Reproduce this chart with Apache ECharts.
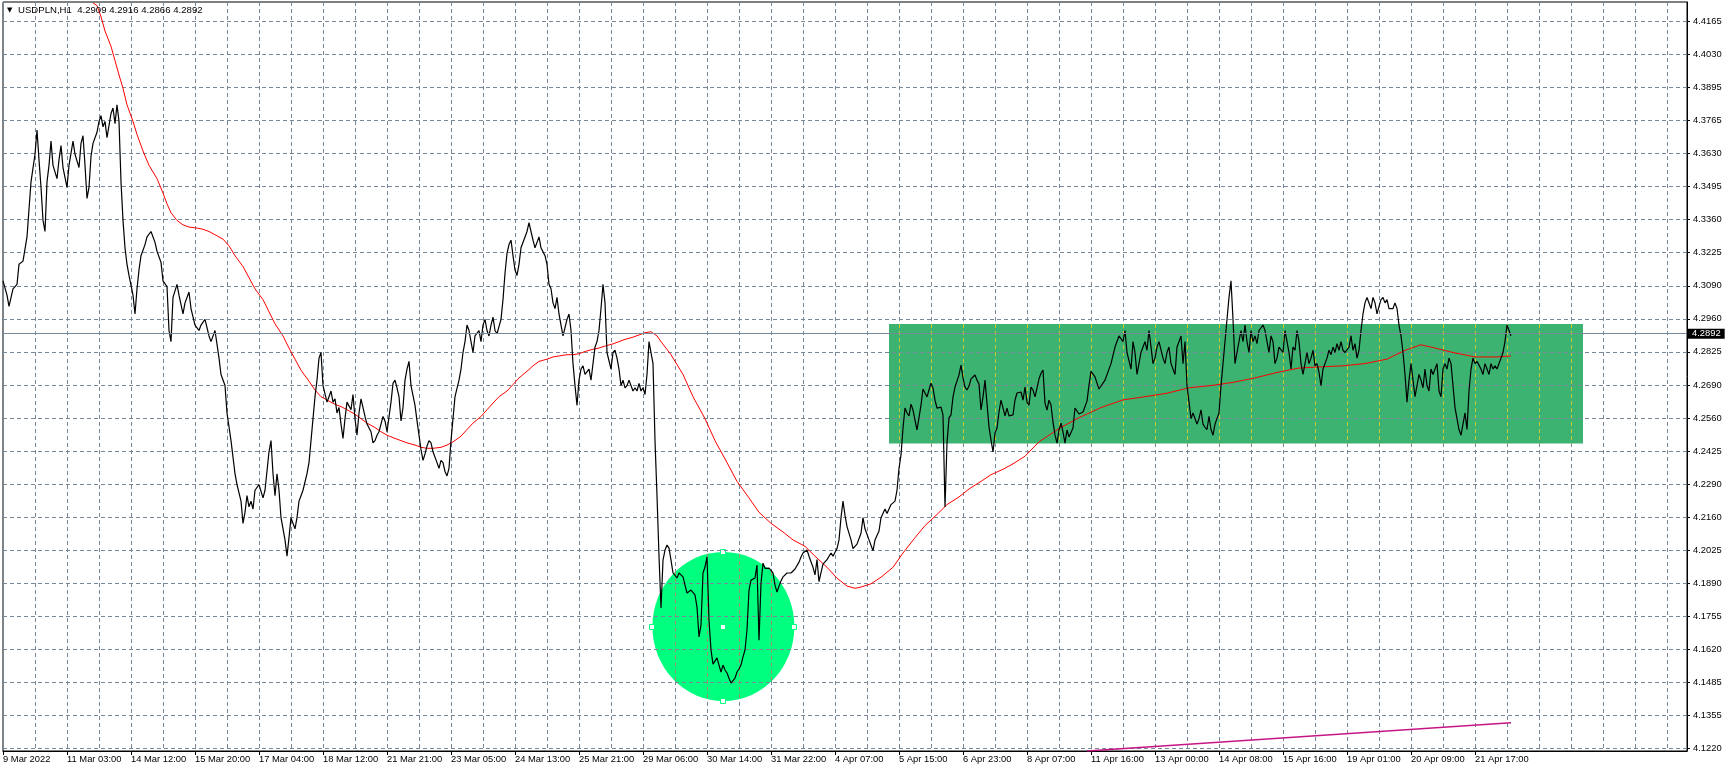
<!DOCTYPE html>
<html><head><meta charset="utf-8">
<script src="https://cdn.jsdelivr.net/npm/echarts@6/dist/echarts.min.js"></script>
<style>html,body{margin:0;padding:0;background:#fff}#chart{width:1727px;height:772px}</style>
</head><body><div id="chart"></div>
<script>
// ---------- data ----------
const symbolName = 'USDPLN';
const timeframe = 'H1';
const ohlc = ['4.2909', '4.2916', '4.2866', '4.2892'];
const lastPrice = 4.2892;

const xLabels = ['9 Mar 2022','11 Mar 03:00','14 Mar 12:00','15 Mar 20:00','17 Mar 04:00','18 Mar 12:00','21 Mar 21:00','23 Mar 05:00','24 Mar 13:00','25 Mar 21:00','29 Mar 06:00','30 Mar 14:00','31 Mar 22:00','4 Apr 07:00','5 Apr 15:00','6 Apr 23:00','8 Apr 07:00','11 Apr 16:00','13 Apr 00:00','14 Apr 08:00','15 Apr 16:00','19 Apr 01:00','20 Apr 09:00','21 Apr 17:00'];
const barsPerLabel = 32;
const barsPerGrid = 16;
const barSlots = 842;

const yLabels = ['4.1220','4.1355','4.1485','4.1620','4.1755','4.1890','4.2025','4.2160','4.2290','4.2425','4.2560','4.2690','4.2825','4.2960','4.3090','4.3225','4.3360','4.3495','4.3630','4.3765','4.3895','4.4030','4.4165'];
const yAxisMin = 4.1210;
const yAxisMax = 4.42435;

// hourly close line: [bar index, price]
const price = [
[0,4.3114],[2,4.3056],[3,4.3011],[5,4.3082],[7,4.3100],[8,4.3181],[10,4.3194],[12,4.3292],[13,4.3404],[14,4.3515],[16,4.3627],[17,4.3725],[18,4.3604],[19,4.3493],[20,4.3359],[21,4.3314],[22,4.3515],[23,4.3582],[24,4.3680],[25,4.3582],[27,4.3528],[28,4.3604],[29,4.3662],[30,4.3573],[32,4.3493],[33,4.3582],[35,4.3680],[36,4.3627],[38,4.3573],[39,4.3671],[40,4.3702],[41,4.3582],[42,4.3448],[43,4.3493],[44,4.3618],[45,4.3671],[47,4.3716],[48,4.3760],[49,4.3783],[50,4.3738],[51,4.3760],[52,4.3694],[54,4.3792],[55,4.3814],[56,4.3751],[57,4.3827],[58,4.3760],[59,4.3515],
[60,4.3359],[61,4.3248],[62,4.3181],[63,4.3136],[65,4.3056],[66,4.2980],[67,4.3082],[68,4.3158],[69,4.3216],[71,4.3261],[72,4.3292],[74,4.3314],[76,4.3270],[77,4.3234],[79,4.3189],[80,4.3114],[82,4.3091],[83,4.2913],[84,4.2868],[85,4.3047],[87,4.3100],[88,4.3056],[90,4.2980],[91,4.3025],[93,4.3069],[94,4.3002],[96,4.2935],[98,4.2913],[99,4.2935],[101,4.2958],[103,4.2891],[104,4.2868],[106,4.2913],[108,4.2801],[109,4.2735],[111,4.2690],[112,4.2579],[114,4.2467],
[115,4.2400],[116,4.2333],[117,4.2289],[119,4.2222],[120,4.2132],[121,4.2177],[122,4.2244],[123,4.2199],[124,4.2222],[125,4.2190],[126,4.2266],[128,4.2289],[130,4.2235],[131,4.2266],[133,4.2422],[134,4.2467],[135,4.2333],[136,4.2244],[137,4.2333],[138,4.2266],[139,4.2155],[141,4.2065],[142,4.1999],[143,4.2074],[144,4.2155],[145,4.2132],[146,4.2110],[147,4.2155],[148,4.2222],[149,4.2244],[150,4.2266],[152,4.2333],[153,4.2378],[154,4.2467],[155,4.2556],[156,4.2645],[157,4.2712],[158,4.2801],[159,4.2824],[160,4.2690],[162,4.2623],[163,4.2645],[164,4.2668],
[165,4.2623],[166,4.2636],[167,4.2579],[168,4.2601],[169,4.2534],[170,4.2476],[171,4.2556],[172,4.2623],[174,4.2592],[175,4.2654],[176,4.2556],[177,4.2489],[178,4.2579],[179,4.2636],[180,4.2601],[181,4.2565],[182,4.2534],[184,4.2503],[185,4.2458],[186,4.2467],[187,4.2489],[188,4.2503],[189,4.2534],[190,4.2565],[191,4.2547],[192,4.2503],[194,4.2623],[195,4.2699],[196,4.2712],[197,4.2681],[198,4.2645],[199,4.2547],[200,4.2601],[201,4.2712],[202,4.2757],[203,4.2788],[204,4.2690],[206,4.2610],[207,4.2547],[208,4.2489],[209,4.2431],[210,4.2387],[211,4.2413],[212,4.2445],[213,4.2467],[214,4.2458],[215,4.2422],[217,4.2378],[218,4.2355],[219,4.2387],[220,4.2378],[221,4.2342],[222,4.2324],[223,4.2355],[224,4.2467],
[225,4.2556],[226,4.2645],[228,4.2712],[229,4.2757],[230,4.2824],[231,4.2868],[232,4.2935],[233,4.2913],[234,4.2868],[235,4.2824],[236,4.2891],[238,4.2913],[239,4.2868],[240,4.2935],[241,4.2958],[242,4.2913],[243,4.2891],[244,4.2935],[245,4.2967],[246,4.2913],[247,4.2900],[249,4.2958],[250,4.3038],[251,4.3145],[252,4.3225],[253,4.3261],[254,4.3279],[255,4.3216],[256,4.3158],[257,4.3136],[258,4.3181],[259,4.3248],[261,4.3292],[262,4.3314],[263,4.3350],[264,4.3314],[265,4.3279],[266,4.3248],[267,4.3270],[268,4.3292],[269,4.3248],[271,4.3216],[272,4.3181],[273,4.3100],[274,4.3082],[275,4.3025],[276,4.3002],[277,4.3047],[278,4.2980],[279,4.2935],[280,4.2891],[282,4.2958],[283,4.2980],[284,4.2913],[285,4.2779],
[286,4.2690],[287,4.2610],[288,4.2712],[289,4.2757],[290,4.2770],[291,4.2735],[293,4.2757],[294,4.2712],[295,4.2779],[296,4.2846],[297,4.2868],[298,4.2913],[299,4.3002],[300,4.3100],[301,4.3025],[302,4.2824],[304,4.2757],[305,4.2824],[306,4.2833],[307,4.2801],[308,4.2757],[309,4.2690],[310,4.2712],[311,4.2681],[312,4.2690],[313,4.2712],[315,4.2668],[316,4.2681],[317,4.2668],[318,4.2699],[319,4.2668],[320,4.2681],[321,4.2654],[322,4.2735],[323,4.2868],[325,4.2779],[326,4.2467],[327,4.2244],
[328,4.2000],[329,4.1789],[330,4.1983],[331,4.2024],[332,4.2044],[333,4.2032],[334,4.1983],[335,4.1931],[336,4.1923],[337,4.1911],[338,4.1931],[339,4.1923],[340,4.1915],[341,4.1882],[342,4.1850],[343,4.1846],[344,4.1862],[345,4.1870],[346,4.1842],[347,4.1793],[348,4.1672],[349,4.1720],[350,4.1931],[351,4.1955],[352,4.1996],[353,4.1740],[354,4.1619],[355,4.1562],[356,4.1566],[357,4.1587],[358,4.1558],[359,4.1530],[360,4.1558],[361,4.1538],[362,4.1526],[363,4.1505],[364,4.1485],[365,4.1489],[366,4.1505],[367,4.1530],[368,4.1542],[369,4.1558],[370,4.1591],[371,4.1619],[372,4.1700],[373,4.1862],[374,4.1902],[375,4.1894],[376,4.1911],[377,4.1963],[378,4.1659],[379,4.1890],[380,4.1971],[381,4.1950],[382,4.1955],[383,4.1951],[384,4.1943],[385,4.1931],[386,4.1882],[387,4.1854],[388,4.1878],[389,4.1899],[390,4.1915],[391,4.1923],[392,4.1931],[393,4.1931],[394,4.1931],[395,4.1935],[396,4.1947],[397,4.1955],[398,4.1975],[399,4.1996],[400,4.2012],[401,4.2020],[402,4.2024],
[403,4.1999],[405,4.1954],[406,4.1923],[407,4.1985],[408,4.1896],[409,4.1932],[410,4.1967],[412,4.1985],[414,4.2012],[415,4.1999],[417,4.2030],[418,4.2065],[419,4.2155],[420,4.2222],[421,4.2164],[422,4.2119],[424,4.2065],[425,4.2030],[427,4.2048],[429,4.2092],[430,4.2155],[431,4.2110],[433,4.2065],[435,4.2021],[436,4.2065],[438,4.2101],[439,4.2155],[441,4.2190],[442,4.2172],[444,4.2208],[446,4.2222],[447,4.2266],[448,4.2355],
[449,4.2409],[450,4.2518],[451,4.2599],[452,4.2579],[453,4.2567],[454,4.2615],[455,4.2591],[456,4.2550],[457,4.2510],[458,4.2510],[459,4.2611],[460,4.2676],[461,4.2660],[462,4.2644],[463,4.2672],[464,4.2700],[465,4.2680],[466,4.2631],[467,4.2599],[468,4.2591],[469,4.2603],[470,4.2571],[471,4.2198],[472,4.2457],[473,4.2559],[474,4.2571],[475,4.2644],[476,4.2684],[477,4.2684],[478,4.2733],[479,4.2773],[480,4.2721],[481,4.2684],[482,4.2672],[483,4.2688],[484,4.2717],[485,4.2725],[486,4.2733],[487,4.2712],[488,4.2696],[489,4.2591],[490,4.2644],[491,4.2712],[492,4.2704],[493,4.2522],[494,4.2470],[495,4.2421],[496,4.2498],[497,4.2518],[498,4.2583],[499,4.2631],[500,4.2631],[501,4.2567],[502,4.2599],[503,4.2567],[504,4.2559],[505,4.2571],[506,4.2631],[507,4.2660],[508,4.2664],[509,4.2664],[510,4.2631],[511,4.2684],[512,4.2623],[513,4.2611],[514,4.2684],[515,4.2672],[516,4.2644],[517,4.2680],[518,4.2717],[519,4.2740],[520,4.2753],[521,4.2619],[522,4.2591],[523,4.2631],[524,4.2611],[525,4.2542],[526,4.2490],[527,4.2457],[528,4.2510],[529,4.2538],[530,4.2502],[531,4.2457],[532,4.2510],[533,4.2482],[534,4.2482],[535,4.2518],[536,4.2599],[537,4.2587],[538,4.2575],[539,4.2583],[540,4.2583],[541,4.2591],[542,4.2627],[543,4.2692],[544,4.2748],[545,4.2740],[546,4.2725],[547,4.2700],[548,4.2676],
[549,4.2668],[551,4.2712],[554,4.2779],[556,4.2846],[558,4.2891],[560,4.2868],[561,4.2913],[562,4.2824],[564,4.2757],[565,4.2868],[566,4.2824],[567,4.2735],[569,4.2824],[571,4.2868],[572,4.2833],[573,4.2913],[575,4.2779],[576,4.2801],[577,4.2846],[578,4.2868],[580,4.2801],[581,4.2779],[582,4.2824],[583,4.2846],[584,4.2779],[586,4.2735],[587,4.2846],[588,4.2868],[589,4.2891],[590,4.2779],[591,4.2868],[592,4.2690],[593,4.2623],[594,4.2556],[595,4.2579],[597,4.2534],[598,4.2556],[599,4.2592],[600,4.2534],[601,4.2521],[602,4.2512],[603,4.2565],[604,4.2512],[605,4.2489],[606,4.2534],[608,4.2579],[609,4.2690],[610,4.2779],[611,4.2868],[612,4.2958],[613,4.3047],[614,4.3114],[615,4.2958],[616,4.2779],[617,4.2824],[619,4.2913],[620,4.2868],[621,4.2935],[622,4.2868],[623,4.2824],[624,4.2913],[625,4.2868],[626,4.2891],[627,4.2860],[628,4.2913],[630,4.2935],[631,4.2913],[632,4.2868],[633,4.2824],[634,4.2891],[635,4.2868],[636,4.2779],[637,4.2801],[638,4.2846],[640,4.2824],[641,4.2913],[642,4.2868],[643,4.2824],[644,4.2757],[645,4.2846],[646,4.2833],[647,4.2913],[648,4.2868],[649,4.2779],[650,4.2735],[652,4.2824],[653,4.2779],[654,4.2801],[655,4.2833],[656,4.2770],[657,4.2779],[658,4.2743],[659,4.2690],[660,4.2757],[662,4.2801],[663,4.2833],[664,4.2815],[665,4.2846],[666,4.2824],[667,4.2860],[668,4.2833],[669,4.2868],[670,4.2833],[671,4.2824],[673,4.2846],[674,4.2891],[675,4.2833],[676,4.2860],[677,4.2801],[678,4.2833],[679,4.2913],[680,4.2980],[681,4.3025],[682,4.3047],[684,4.3002],[685,4.3047],[686,4.3025],[687,4.2980],[688,4.3011],[689,4.3038],[690,4.3047],[691,4.3025],[692,4.3038],[693,4.3002],[695,4.3002],[696,4.3025],[697,4.3002],[698,4.2935],[699,4.2891],[700,4.2824],[701,4.2735],[702,4.2623],[703,4.2712],[704,4.2779],[706,4.2645],[707,4.2690],[708,4.2735],[709,4.2712],[710,4.2681],[711,4.2757],[712,4.2690],[713,4.2668],[714,4.2757],[715,4.2735],[717,4.2779],[718,4.2668],[719,4.2645],[720,4.2757],[721,4.2779],[722,4.2757],[723,4.2801],[724,4.2779],[725,4.2690],[726,4.2601],[728,4.2512],[729,4.2489],[730,4.2534],[731,4.2579],[732,4.2512],[733,4.2668],[734,4.2757],[735,4.2801],[736,4.2779],[737,4.2788],[739,4.2757],[740,4.2735],[741,4.2779],[742,4.2757],[743,4.2735],[744,4.2779],[745,4.2757],[746,4.2770],[747,4.2757],[749,4.2801],[750,4.2824],[751,4.2868],[752,4.2935],[753,4.2913],[754,4.2892]
];

// moving average (red)
const movingAverage = [
[45,4.4240],[47,4.4229],[49,4.4184],[51,4.4126],[54,4.4064],[56,4.4006],[58,4.3948],[60,4.3894],[62,4.3827],[65,4.3760],[67,4.3707],[70,4.3640],[73,4.3582],[77,4.3528],[80,4.3470],[82,4.3426],[84,4.3390],[87,4.3359],[90,4.3341],[93,4.3332],[97,4.3328],[100,4.3323],[103,4.3314],[106,4.3301],[110,4.3283],[113,4.3256],[116,4.3216],[120,4.3172],[123,4.3127],[126,4.3082],[130,4.3038],[133,4.2989],[136,4.2940],[140,4.2891],[143,4.2842],[146,4.2797],[149,4.2752],[153,4.2708],[156,4.2672],[159,4.2645],[163,4.2627],[166,4.2614],[169,4.2605],[172,4.2592],[176,4.2574],[179,4.2556],[182,4.2538],[186,4.2520],[189,4.2503],[192,4.2489],[196,4.2476],[199,4.2467],[202,4.2458],[206,4.2449],[209,4.2440],[212,4.2436],[215,4.2436],[219,4.2440],[222,4.2449],[225,4.2462],[229,4.2485],[232,4.2512],[235,4.2538],[239,4.2565],[242,4.2592],[245,4.2619],[248,4.2645],[252,4.2668],[255,4.2694],[258,4.2721],[262,4.2748],[265,4.2770],[268,4.2788],[272,4.2797],[275,4.2806],[278,4.2810],[282,4.2815],[285,4.2815],[288,4.2819],[291,4.2828],[295,4.2837],[298,4.2842],[301,4.2850],[305,4.2859],[308,4.2868],[311,4.2877],[315,4.2886],[318,4.2895],[321,4.2904],[324,4.2908],[327,4.2891],[329,4.2868],[334,4.2815],[340,4.2735],[345,4.2645],[351,4.2556],[356,4.2467],[362,4.2378],[367,4.2302],[373,4.2235],[378,4.2177],[384,4.2132],[390,4.2097],[395,4.2065],[401,4.2039],[406,4.1999],[412,4.1954],[417,4.1910],[422,4.1878],[426,4.1869],[429,4.1874],[434,4.1887],[439,4.1914],[445,4.1954],[450,4.2012],[456,4.2074],[461,4.2123],[467,4.2168],[472,4.2208],[478,4.2239],[483,4.2271],[489,4.2302],[494,4.2329],[500,4.2351],[505,4.2373],[511,4.2404],[518,4.2462],[528,4.2516],[538,4.2560],[549,4.2601],[560,4.2632],[571,4.2645],[582,4.2659],[593,4.2681],[604,4.2690],[615,4.2703],[626,4.2721],[637,4.2743],[648,4.2761],[659,4.2766],[670,4.2770],[681,4.2779],[692,4.2797],[701,4.2833],[709,4.2855],[714,4.2846],[725,4.2824],[736,4.2806],[747,4.2806],[754,4.2810]
];

const trendLine = [[542,4.1210],[754,4.1324]];
const rectZone = { from: 443, to: 790, top: 4.2939, bottom: 4.2455 };
const ellipseZone = { center: [360.2, 4.1714], radius: [35.5, 0.0302] };

// ---------- derived ----------
const yLow = parseFloat(yLabels[0]);
const yHigh = parseFloat(yLabels[yLabels.length - 1]);
const yStep = (yHigh - yLow) / (yLabels.length - 1);
const yTicks = yLabels.map((_, i) => yLow + i * yStep);
const xLabelBars = xLabels.map((_, i) => i * barsPerLabel);

const FONT = 'Liberation Sans';
const FSIZE = 9.4;
const gridColor = '#778899';

const chart = echarts.init(document.getElementById('chart'), null, { renderer: 'canvas' });

function gridXs(from, to) {
  const out = [];
  for (let b = Math.ceil(from / barsPerGrid) * barsPerGrid; b <= to; b += barsPerGrid) out.push(b);
  return out;
}

const option = {
  animation: false,
  backgroundColor: '#fff',
  grid: { left: 3, right: 40, top: 2, bottom: 21, show: true, borderColor: '#000', borderWidth: 1, backgroundColor: 'transparent' },
  xAxis: [
    { type: 'value', min: 0, max: barSlots, interval: barsPerGrid, z: 0.5,
      axisLine: { show: false }, axisTick: { show: false }, axisLabel: { show: false },
      splitLine: { show: true, lineStyle: { color: gridColor, width: 1, type: [4, 3] } } },
    { type: 'value', min: 0, max: barSlots, position: 'bottom', z: 1.5,
      axisLine: { show: true, onZero: false, lineStyle: { color: '#000', width: 1 } },
      axisTick: { show: true, length: 4, lineStyle: { color: '#000' }, customValues: xLabelBars },
      axisLabel: { show: true, customValues: xLabelBars, align: 'left', margin: 4, color: '#000', fontFamily: FONT, fontSize: FSIZE,
        formatter: (v) => xLabels[Math.round(v / barsPerLabel)] || '' },
      splitLine: { show: false } }
  ],
  yAxis: [{
    type: 'value', position: 'right', min: yAxisMin, max: yAxisMax, z: 1.5,
    axisLine: { show: true, onZero: false, lineStyle: { color: '#000', width: 1 } },
    axisTick: { show: true, length: 3, inside: false, lineStyle: { color: '#000' }, customValues: yTicks },
    axisLabel: { show: true, customValues: yTicks, margin: 6, color: '#000', fontFamily: FONT, fontSize: FSIZE,
      formatter: (v) => yLabels[Math.round((v - yLow) / yStep)] },
    splitLine: { show: true, lineStyle: { color: gridColor, width: 1, type: [4, 3] } }
  }],
  graphic: [
    { type: 'text', left: 7, top: 7, z: 10, style: { text: '▼', fill: '#000', font: '7px "DejaVu Sans"' } },
    { type: 'text', left: 18, top: 5, z: 10, style: { text: symbolName + ',' + timeframe + '  ' + ohlc.join(' '), fill: '#000', font: '9.6px "Liberation Sans"' } }
  ],
  series: [
    { // rectangle zone
      type: 'custom', xAxisIndex: 0, yAxisIndex: 0, z: 1, silent: true,
      data: [[rectZone.from, rectZone.top]],
      renderItem: (params, api) => {
        const tl = api.coord([rectZone.from, rectZone.top]);
        const br = api.coord([rectZone.to, rectZone.bottom]);
        const children = [{ type: 'rect', shape: { x: tl[0], y: tl[1], width: br[0] - tl[0], height: br[1] - tl[1] }, style: { fill: '#3CB371' } }];
        gridXs(rectZone.from, rectZone.to).forEach(b => {
          const x = Math.round(api.coord([b, rectZone.top])[0]) + 0.5;
          children.push({ type: 'line', shape: { x1: x, y1: tl[1], x2: x, y2: br[1] }, style: { stroke: '#C8C832', lineWidth: 1, lineDash: [4, 3] } });
        });
        return { type: 'group', children };
      }
    },
    { // ellipse
      type: 'custom', xAxisIndex: 0, yAxisIndex: 0, z: 1, silent: true,
      data: [ellipseZone.center],
      renderItem: (params, api) => {
        const [bc, vc] = ellipseZone.center;
        const [br, vr] = ellipseZone.radius;
        const c = api.coord([bc, vc]);
        const e = api.coord([bc + br, vc + vr]);
        const rx = e[0] - c[0], ry = c[1] - e[1];
        const children = [{ type: 'ellipse', shape: { cx: c[0], cy: c[1], rx, ry }, style: { fill: '#00FF7F' } }];
        gridXs(bc - br, bc + br).forEach(b => {
          const x = Math.round(api.coord([b, vc])[0]) + 0.5;
          const t = (x - c[0]) / rx;
          if (Math.abs(t) >= 1) return;
          const dy = ry * Math.sqrt(1 - t * t);
          children.push({ type: 'line', shape: { x1: x, y1: c[1] - dy, x2: x, y2: c[1] + dy }, style: { stroke: '#9C8F6A', lineWidth: 1, lineDash: [4, 3] } });
        });
        const anchors = [[bc - br, vc], [bc + br, vc], [bc, vc + vr], [bc, vc - vr]];
        anchors.forEach(a => {
          const p = api.coord(a);
          children.push({ type: 'rect', shape: { x: Math.round(p[0]) - 2.5, y: Math.round(p[1]) - 2.5, width: 5, height: 5 }, style: { fill: '#fff', stroke: '#00FF7F', lineWidth: 1 } });
        });
        children.push({ type: 'rect', shape: { x: Math.round(c[0]) - 2, y: Math.round(c[1]) - 2, width: 4, height: 4 }, style: { fill: '#fff' } });
        return { type: 'group', children };
      }
    },
    { // current price line
      type: 'line', xAxisIndex: 0, yAxisIndex: 0, z: 1.8, silent: true,
      data: [], showSymbol: false,
      markLine: {
        silent: true, symbol: ['none', 'none'], animation: false,
        lineStyle: { color: gridColor, width: 1, type: 'solid' },
        label: { show: true, position: 'end', distance: 1, formatter: () => ohlc[3], color: '#fff', backgroundColor: '#000', padding: [1, 4, 0, 4], fontFamily: FONT, fontSize: FSIZE },
        data: [{ yAxis: lastPrice }]
      }
    },
    { name: 'MA', type: 'line', xAxisIndex: 0, yAxisIndex: 0, z: 2, data: movingAverage, showSymbol: false, silent: true,
      lineStyle: { color: '#FF0000', width: 1 } },
    { name: 'Trend', type: 'line', xAxisIndex: 0, yAxisIndex: 0, z: 2, data: trendLine, showSymbol: false, silent: true,
      lineStyle: { color: '#C71585', width: 1.5 } },
    { name: symbolName, type: 'line', xAxisIndex: 0, yAxisIndex: 0, z: 3, data: price, showSymbol: false, silent: true,
      lineStyle: { color: '#000', width: 1.2 } }
  ]
};
chart.setOption(option);
</script>
</body></html>
